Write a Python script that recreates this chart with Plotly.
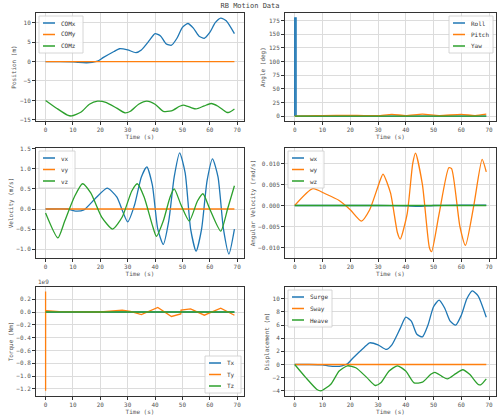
import plotly.graph_objects as go

# ---- data ----
comx_t = [0,5,10,12,15,17,19,21,25,27,30,33,35,38,40,42,44,46,48,50,52,54,56,58,60,62,64,66,69]
comx_v = [0,0,-0.05,-0.2,-0.3,-0.2,0.1,1.0,2.6,3.3,3.0,2.3,3.0,5.5,7.2,6.6,4.6,4.2,6.0,8.8,9.8,8.6,6.6,6.0,7.5,10.0,11.2,10.5,7.2]
comz_t = [0,4,8,9.5,13,16,19,22,26,29,31,34,37,40,43,46,49,50.5,53,55,58,60.5,63,66,67,69]
comz_v = [-10,-12,-13.8,-14,-13,-11,-10.2,-10.5,-12,-13.2,-12.8,-11,-10.2,-11,-12.8,-12.7,-11.5,-11.2,-11.8,-12.2,-11.4,-10.8,-11.5,-13,-13.1,-12.2]
line_t = [0,69]
zero_v = [0,0]

roll_t = [0,0.01,0.5,0.51,69]
roll_v = [0,180,180,0,0]
pitch_t = [0,5,10,20,25,30,35,40,46,52,60,65,69]
pitch_v = [0,0.5,1,1.2,1,0.8,3,1,3.5,1,3,1,3.5]

vx_t = [0,8,11,14,18,22.5,26,30,32.5,35,37,39,41,43,45,47,49,51,53,55,57,59,61,63,65,67,69]
vx_v = [0,0,-0.05,-0.02,0.25,0.52,0.3,-0.32,0.1,0.8,1.05,0.6,-0.5,-0.88,-0.3,0.8,1.4,0.9,-0.5,-1.05,-0.5,0.7,1.25,0.8,-0.5,-1.12,-0.5]
vz_t = [0,4.5,7,10.5,13.5,16.5,20.5,24.5,28,31.5,33.5,36,39,40.5,43,45.5,47,49.5,52.5,55.5,57.5,60,64,66.5,69]
vz_v = [-0.1,-0.72,-0.3,0.3,0.63,0.4,-0.2,-0.5,-0.2,0.45,0.63,0.3,-0.4,-0.68,-0.3,0.3,0.5,0.1,-0.3,0.2,0.38,0.0,-0.55,0.0,0.58]

wy_t = [0,6.5,11,16,20,24,27,30.5,31.8,34.5,37,38,40.5,42.5,43.5,46,48.5,49.3,52,55.5,56.5,59.5,61.5,64.5,67.5,69]
wy_v = [0,0.004,0.0028,0.0012,-0.001,-0.0037,-0.001,0.0055,0.0075,0.003,-0.0065,-0.008,-0.002,0.01,0.0125,0.005,-0.01,-0.011,-0.002,0.009,0.0088,-0.005,-0.0095,0,0.011,0.008]
wx_t = [0,30,40,45,50,60,69]
wx_v = [0,0,-0.0001,-0.0002,0,0.0001,0.0001]

ty_t = [0,0.01,0.02,0.3,5,20,28,31,35,41,46,49.4,49.5,53,58,64,69]
ty_v = [0.32,-1.23,0.02,0.02,0.005,0,0.03,0.01,-0.04,0.07,-0.07,-0.03,0.03,0.05,-0.05,0.06,-0.05]

C = ['#1f77b4', '#ff7f0e', '#2ca02c']
F = 'DejaVu Sans Mono'
fig = go.Figure()
legends = {}

def add(t, v, name, color, ax, smooth=True):
    fig.add_trace(go.Scatter(x=t, y=v, name=name, mode='lines', showlegend=False,
        line=dict(color=color, width=1.3, shape='spline' if smooth else 'linear', smoothing=0.6),
        xaxis='x'+ax, yaxis='y'+ax))
    legends.setdefault(ax, []).append((name, color))

add(comx_t, comx_v, 'COMx', C[0], '')
add(line_t, zero_v, 'COMy', C[1], '')
add(comz_t, comz_v, 'COMz', C[2], '')
add(roll_t, roll_v, 'Roll', C[0], '2', False)
add(pitch_t, pitch_v, 'Pitch', C[1], '2')
add(line_t, zero_v, 'Yaw', C[2], '2')
add(vx_t, vx_v, 'vx', C[0], '3')
add(line_t, zero_v, 'vy', C[1], '3')
add(vz_t, vz_v, 'vz', C[2], '3')
add(wx_t, wx_v, 'wx', C[0], '4')
add(wy_t, wy_v, 'wy', C[1], '4')
add(line_t, zero_v, 'wz', C[2], '4')
add(line_t, zero_v, 'Tx', C[0], '5')
add(ty_t, ty_v, 'Ty', C[1], '5', False)
add(line_t, zero_v, 'Tz', C[2], '5')
add(comx_t, comx_v, 'Surge', C[0], '6')
add(line_t, zero_v, 'Sway', C[1], '6')
add(comz_t, [v - comz_v[0] for v in comz_v], 'Heave', C[2], '6')

W, H = 500, 416
cols = [(36/W, 244/W), (285/W, 496/W)]
rows = [(1-121/H, 1-13/H), (1-258/H, 1-148/H), (1-396/H, 1-287/H)]
ylabels = ['Position (m)', 'Angle (deg)', 'Velocity (m/s)', 'Angular Velocity (rad/s)', 'Torque (Nm)', 'Displacement (m)']
yr = [[-15.3, 12.5], [-9, 189], [-1.22, 1.52], [-0.0125, 0.0137], [-1.31, 0.39], [-4.8, 11.8]]
yd = [5, 25, 0.5, 0.005, 0.2, 2]
yfmt = [None, None, '.1f', '.3f', '.1f', None]
lay = {}
shapes, annots = [], []
TF = dict(size=6, family=F, color='#555')
for i in range(6):
    r, c = divmod(i, 2)
    s = '' if i == 0 else str(i+1)
    ax = dict(showline=True, linecolor='#333', mirror=True, gridcolor='#dcdcdc', zeroline=False,
              automargin=False, ticks='outside', ticklen=3, tickcolor='#333', tickfont=TF)
    lay['xaxis'+s] = dict(ax, domain=cols[c], anchor='y'+s, range=[-3.5, 72.5], dtick=10,
                          title=dict(text='Time (s)', font=TF, standoff=1))
    ya = dict(ax, domain=rows[r], anchor='x'+s, range=yr[i], dtick=yd[i],
              title=dict(text=ylabels[i], font=TF, standoff=2))
    if yfmt[i]:
        ya['tickformat'] = yfmt[i]
    lay['yaxis'+s] = ya
    items = legends[s]
    d0, d1 = cols[c]; e0, e1 = rows[r]
    bw = (44 if max(len(n) for n, _ in items) > 2 else 36) / W
    bh = 37 / H
    if i == 1:
        x0 = d1 - 3/W - bw; y1 = e1 - 3/H
    elif i == 4:
        x0 = d1 - 3/W - bw; y1 = e0 + 3/H + bh
    else:
        x0 = d0 + 3/W; y1 = e1 - 3/H
    shapes.append(dict(type='rect', xref='paper', yref='paper', x0=x0, x1=x0+bw, y0=y1-bh, y1=y1,
                       line=dict(color='#ccc', width=0.8), fillcolor='rgba(255,255,255,0.85)'))
    for k, (n, col) in enumerate(items):
        yy = y1 - (7 + k*11.5)/H
        shapes.append(dict(type='line', xref='paper', yref='paper', x0=x0+4/W, x1=x0+16/W, y0=yy, y1=yy,
                           line=dict(color=col, width=1.5)))
        annots.append(dict(text=n, x=x0+20/W, y=yy, xref='paper', yref='paper', xanchor='left',
                           yanchor='middle', showarrow=False, font=dict(size=6, family=F, color='#333')))

annots.append(dict(text='1e9', x=cols[0][0], y=rows[2][1], xref='paper', yref='paper',
                   xanchor='left', yanchor='bottom', showarrow=False, font=TF))
fig.update_layout(**lay, width=W, height=H, margin=dict(l=0, r=0, t=0, b=0),
    paper_bgcolor='white', plot_bgcolor='white', shapes=shapes, annotations=annots,
    title=dict(text='RB Motion Data', x=0.5, y=0.992, xanchor='center', yanchor='top',
               font=dict(size=7, family=F, color='#444')))
fig.write_html('out.html', config={'displayModeBar': False},
               post_script="document.body.style.margin='0';document.body.style.overflow='hidden';")
